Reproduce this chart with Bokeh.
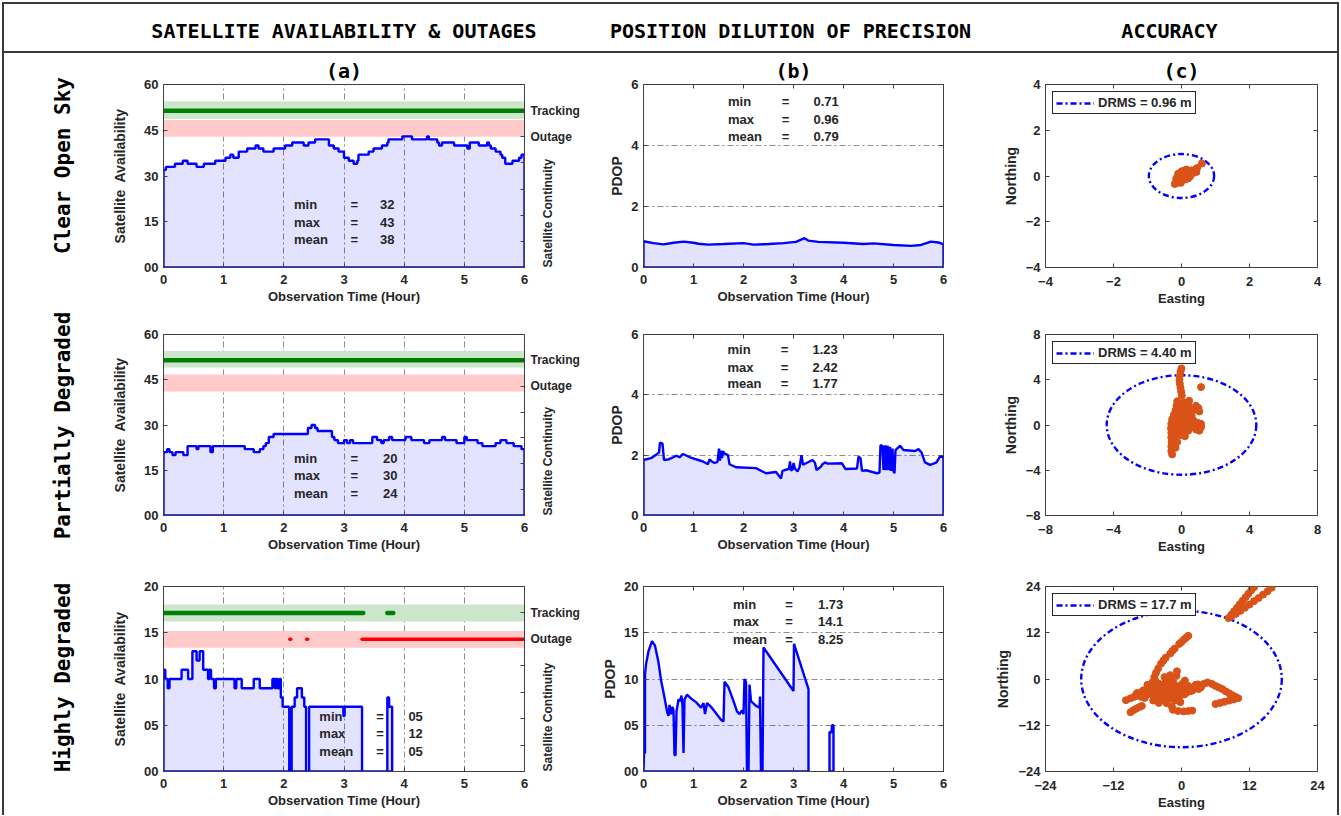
import math
from bokeh.plotting import figure
from bokeh.layouts import row, column, Spacer
from bokeh.models import Range1d, LinearAxis, FixedTicker, Label, Legend, LegendItem
from bokeh.embed import file_html
from bokeh.resources import INLINE

# ---------------- texts ----------------
col_titles = ["SATELLITE AVAILABILITY & OUTAGES", "POSITION DILUTION OF PRECISION", "ACCURACY"]
row_names = ["Clear Open Sky", "Partially Degraded", "Highly Degraded"]
panel_tags = ["(a)", "(b)", "(c)"]
stat_names = ["min", "max", "mean"]

# ---------------- shared axes ----------------
hours = [0, 6]
hour_ticks = [0, 1, 2, 3, 4, 5, 6]
avail_ticks_60 = [0, 15, 30, 45, 60]
avail_labels_60 = ["00", "15", "30", "45", "60"]
ticks_20 = [0, 5, 10, 15, 20]
labels_20 = ["00", "05", "10", "15", "20"]
pdop_ticks_6 = [0, 2, 4, 6]
cont_range = [0, 7]
cont_ticks = [5, 6]
cont_labels = ["Outage", "Tracking"]
cont_minor_ticks = [1, 2, 3, 4]

# ---------------- (a) satellite availability: (start hour, satellites) ----------------
a1_steps = [(0, 32), (0.04, 33), (0.19, 34), (0.32, 35), (0.40, 34), (0.55, 33), (0.67, 34), (0.86, 35),
            (1.03, 36), (1.11, 37), (1.16, 36), (1.25, 38), (1.39, 39), (1.53, 40), (1.58, 39), (1.66, 38),
            (1.83, 39), (2.02, 40), (2.14, 41), (2.33, 40), (2.41, 41), (2.52, 42), (2.75, 40), (2.83, 39),
            (2.91, 38), (3.0, 36), (3.08, 35), (3.16, 34), (3.22, 35), (3.24, 37), (3.41, 38), (3.49, 39),
            (3.63, 40), (3.72, 41), (3.74, 42), (3.97, 43), (4.13, 42), (4.38, 43), (4.41, 42), (4.55, 41),
            (4.58, 40), (4.63, 41), (4.83, 40), (5.05, 39), (5.09, 41), (5.24, 40), (5.38, 41), (5.41, 40),
            (5.44, 39), (5.52, 38), (5.6, 37), (5.63, 36), (5.68, 34), (5.8, 35), (5.91, 36), (5.95, 37),
            (6.0, 37)]
a2_steps = [(0, 21), (0.06, 22), (0.1, 21), (0.15, 20), (0.2, 21), (0.33, 20), (0.4, 23), (0.55, 22),
            (0.58, 23), (0.78, 21), (0.82, 23), (1.35, 22), (1.5, 21), (1.6, 22), (1.66, 23), (1.7, 24),
            (1.75, 26), (1.83, 27), (2.4, 29), (2.46, 30), (2.52, 29), (2.56, 28), (2.8, 26), (2.84, 25),
            (2.9, 24), (3.0, 25), (3.05, 24), (3.1, 25), (3.15, 24), (3.47, 26), (3.55, 25), (3.62, 24),
            (3.66, 25), (3.75, 26), (3.8, 25), (4.02, 26), (4.12, 25), (4.33, 24), (4.42, 25), (4.63, 26),
            (4.68, 25), (4.87, 24), (5.0, 26), (5.04, 25), (5.22, 24), (5.3, 23), (5.52, 24), (5.6, 25),
            (5.7, 24), (5.82, 23), (5.95, 22), (6.0, 22)]
a3_steps = [(0, 11), (0.03, 10), (0.07, 9), (0.1, 10), (0.3, 11), (0.41, 10), (0.48, 13), (0.55, 12),
            (0.6, 13), (0.66, 11), (0.74, 10), (0.76, 11), (0.79, 10), (0.84, 9), (0.87, 10), (1.18, 9),
            (1.21, 10), (1.3, 9), (1.5, 10), (1.6, 9), (1.81, 10), (1.85, 9), (1.87, 10), (1.9, 9), (1.93, 10),
            (1.95, 8), (1.98, 7), (2.09, 0), (2.13, 7), (2.18, 8), (2.22, 9), (2.3, 8), (2.34, 7), (2.37, 0),
            (2.42, 7), (2.99, 6), (3.01, 7), (3.3, 0), (3.72, 8), (3.75, 7), (3.8, 0)]

# continuity bands (continuity-axis units) and tracking / outage periods (hours)
green_bands = [(5.68, 6.36), (5.72, 6.36), (5.68, 6.32)]
red_bands = [(5.0, 5.64), (4.8, 5.45), (4.68, 5.32)]
tracking_1 = [(0, 6)]
tracking_2 = [(0, 6)]
tracking_3 = [(0, 3.32), (3.72, 3.82)]
outage_1 = []
outage_2 = []
outage_3 = [(2.1, 2.115), (2.38, 2.395), (3.3, 6.0)]

stats_a1 = ["32", "43", "38"]
stats_a2 = ["20", "30", "24"]
stats_a3 = ["05", "12", "05"]

# ---------------- (b) PDOP: (hour, pdop) ----------------
b1_pts = [(0, 0.86), (0.2, 0.8), (0.4, 0.76), (0.6, 0.81), (0.8, 0.85), (1.0, 0.81), (1.1, 0.78), (1.3, 0.75),
          (1.6, 0.77), (2.0, 0.8), (2.2, 0.75), (2.5, 0.77), (2.8, 0.8), (3.05, 0.84), (3.22, 0.96),
          (3.3, 0.88), (3.5, 0.84), (4.0, 0.81), (4.4, 0.77), (4.6, 0.79), (5.0, 0.74), (5.35, 0.71),
          (5.55, 0.74), (5.75, 0.85), (5.9, 0.82), (6.0, 0.76)]
b2_pts = [(0, 1.84), (0.15, 1.9), (0.28, 2.05), (0.31, 2.09), (0.33, 2.42), (0.38, 2.38), (0.41, 1.84),
          (0.5, 1.86), (0.66, 1.98), (0.72, 1.93), (0.79, 2.04), (0.93, 1.93), (1.19, 1.79), (1.29, 1.7),
          (1.32, 1.86), (1.36, 1.8), (1.42, 1.74), (1.48, 1.78), (1.51, 2.22), (1.53, 1.82), (1.55, 2.15),
          (1.57, 1.9), (1.59, 2.13), (1.62, 2.05), (1.69, 2.0), (1.72, 1.7), (1.85, 1.6), (2.25, 1.57),
          (2.38, 1.46), (2.45, 1.4), (2.65, 1.44), (2.75, 1.23), (2.78, 1.48), (2.91, 1.55), (2.93, 1.79),
          (2.95, 1.5), (2.98, 1.51), (3.0, 1.74), (3.03, 1.55), (3.08, 1.46), (3.12, 1.6), (3.16, 2.0),
          (3.19, 1.68), (3.21, 1.7), (3.38, 1.84), (3.43, 1.75), (3.46, 1.51), (3.55, 1.62), (3.58, 1.7),
          (3.63, 1.76), (3.68, 1.72), (3.97, 1.73), (4.04, 1.54), (4.27, 1.56), (4.3, 1.95), (4.34, 1.9),
          (4.37, 1.48), (4.45, 1.5), (4.67, 1.4), (4.72, 1.42), (4.74, 2.33), (4.78, 2.3), (4.8, 1.51),
          (4.83, 2.33), (4.85, 1.5), (4.88, 2.32), (4.9, 1.5), (4.93, 2.28), (4.95, 1.48), (4.98, 2.22),
          (5.0, 1.46), (5.02, 1.4), (5.04, 2.17), (5.13, 2.31), (5.2, 2.17), (5.43, 2.14), (5.5, 2.2),
          (5.56, 2.09), (5.6, 1.9), (5.63, 1.76), (5.73, 1.68), (5.8, 1.72), (5.86, 1.76), (5.93, 1.95),
          (6.0, 1.95)]
b3_pts = [(0, 0), (0.01, 2.0), (0.03, 2.0), (0.03, 10.5), (0.05, 11.6), (0.1, 13.0), (0.17, 14.1),
          (0.23, 13.6), (0.3, 11.8), (0.35, 9.9), (0.42, 8.0), (0.47, 6.5), (0.5, 6.0), (0.52, 7.2),
          (0.55, 6.2), (0.58, 7.0), (0.6, 6.6), (0.62, 1.8), (0.64, 1.73), (0.66, 6.5), (0.7, 7.8),
          (0.73, 7.6), (0.76, 8.2), (0.78, 7.1), (0.8, 2.0), (0.82, 7.8), (0.87, 8.3), (0.95, 7.9),
          (1.05, 7.5), (1.15, 6.9), (1.2, 7.4), (1.23, 6.2), (1.27, 7.4), (1.35, 7.0), (1.45, 6.3),
          (1.55, 5.6), (1.6, 5.4), (1.62, 9.7), (1.7, 9.1), (1.8, 7.6), (1.87, 6.5), (1.92, 6.2),
          (1.97, 6.6), (2.0, 6.2), (2.02, 10.0), (2.05, 9.7), (2.07, 0), (2.1, 0), (2.12, 9.4),
          (2.15, 7.6), (2.25, 7.1), (2.32, 6.9), (2.33, 8.1), (2.35, 0), (2.38, 0), (2.4, 13.4),
          (3.0, 8.7), (3.01, 13.8), (3.3, 8.9), (3.3, 0)]
b3_pts_late = [(3.72, 0), (3.72, 4.3), (3.76, 4.2), (3.77, 5.0), (3.8, 5.0), (3.8, 0)]

stats_b1 = ["0.71", "0.96", "0.79"]
stats_b2 = ["1.23", "2.42", "1.77"]
stats_b3 = ["1.73", "14.1", "8.25"]

# ---------------- (c) accuracy: easting / northing (m) ----------------
c1_e = [-0.17, -0.12, -0.08, -0.04, -0.1, -0.03, 0.02, 0.05, 0.0, 0.08, 0.12, 0.15, 0.2, 0.24, 0.28, 0.3,
        0.18, 0.1, 0.05, -0.06, 0.38, 0.4, 0.43, 0.46, 0.44, 0.6,
        -0.12, -0.05, 0.0, 0.1, 0.22, 0.25, -0.15, 0.02,
        -0.2, -0.15, -0.1, 0.0, 0.1, 0.2, 0.25, 0.12, -0.02, 0.3, 0.15, 0.05]
c1_n = [-0.3, -0.22, -0.15, -0.2, -0.05, -0.05, -0.12, 0.0, 0.06, 0.1, 0.02, 0.12, 0.2, 0.12, 0.2, 0.1,
        0.05, -0.06, 0.15, 0.02, 0.15, 0.22, 0.3, 0.35, 0.18, 0.55,
        -0.3, -0.25, -0.05, 0.15, 0.05, 0.22, -0.12, 0.12,
        -0.35, -0.1, 0.1, 0.2, 0.25, -0.1, -0.02, -0.15, -0.3, 0.25, 0.28, 0.22]
c2_e = [0.0, -0.06, -0.1, -0.12, -0.1, -0.06, -0.02, 0.02, 1.15,
        -0.25, -0.3, -0.35, -0.45, -0.55, -0.6, -0.62, -0.6, -0.6, -0.58, -0.6, -0.6, -0.55, -0.35,
        -0.25, -0.3, -0.2, -0.3, -0.1, -0.2, -0.05, 0.05, 0.15, 0.45, 0.4, 0.3, 0.2, 0.1, 0.0, -0.1,
        0.15, 0.35, 0.5, 0.6, 0.7, 0.85, 1.0, 1.05, 0.65, 0.85, 1.05, 1.15, 1.15, 0.95, 0.7, 0.4, 0.2,
        -0.45, -0.45]
c2_n = [5.0, 4.7, 4.35, 4.0, 3.65, 3.3, 2.95, 2.6, 3.35,
        2.1, 1.7, 1.3, 0.9, 0.5, 0.1, -0.3, -0.7, -1.1, -1.5, -1.9, -2.3, -2.6, -2.0,
        -1.5, -1.0, -0.5, 0.0, 0.3, 0.8, 1.2, 1.6, 2.0, 2.15, 1.7, 1.2, 0.7, 0.2, -0.3, -0.9,
        -0.6, -0.2, 0.3, 0.8, 1.3, 1.7, 1.5, 1.2, -0.1, -0.4, -0.5, -0.2, 0.1, 0.2, 0.4, -0.5, -1.0,
        -0.4, 0.3]
c3_e = [8.3, 8.8, 9.3, 9.8, 10.3, 10.8, 11.3, 11.8, 12.3, 12.8,
        8.8, 9.6, 10.4, 11.2, 12.0, 12.8, 13.6, 14.4, 15.2, 15.9,
        1.2, 0.8, 0.4, 0.0, -0.4, -1.2, -1.6, -2.0, -2.8, -3.2, -3.6, -4.1, -4.5, -4.8, -5.1,
        -9.8, -9.0, -8.3, -7.6, -7.0, -6.4, -5.8, -5.2,
        -8.0, -7.2, -6.5, -6.0, -5.5, -5.0, -4.5, -4.2, -4.0, -3.6, -3.3, -3.0, -2.8, -2.5, -2.2, -2.0,
        -1.8, -1.5, -1.2, -1.0, -0.9, -0.8, -0.5, -0.3, 0.0, 0.2, 0.5, 0.8, 1.2, 1.5, 2.0, 2.5, 3.0,
        3.5, 4.0, 4.6, -3.8, -2.6, -1.7, -1.5, -0.6, 0.4, 1.2, 1.9, -4.6, -6.0, -3.0, -2.0, 0.6,
        -9.0, -8.5, -8.0, -7.5, -7.0,
        5.4, 6.0, 6.6, 7.2, 7.8, 8.4, 9.0, 9.6, 10.0,
        6.0, 6.8, 7.6, 8.4, 9.2,
        -7.8, -6.8, -6.2, -5.6, -5.2, -4.8, -4.4, -3.9, -3.4, -2.9, -2.4, -1.9, -1.4, -0.9, -0.4,
        0.3, 0.9, 1.4, 1.9, 2.4, 2.9, 3.4, -3.2, -2.2, -1.2, -0.2, 0.8, -4.0, -5.0]
c3_n = [15.8, 16.7, 17.6, 18.5, 19.4, 20.3, 21.2, 22.1, 23.0, 23.8,
        16.2, 16.9, 17.7, 18.5, 19.3, 20.2, 21.0, 21.9, 22.8, 23.7,
        11.2, 10.7, 10.2, 9.6, 9.1, 7.9, 7.3, 6.6, 5.5, 4.8, 4.0, 2.8, 1.6, 0.5, -0.8,
        -5.5, -5.0, -4.6, -4.0, -3.5, -2.8, -2.2, -1.6,
        -4.0, -4.6, -4.9, -3.8, -3.0, -4.2, -3.5, -2.5, -1.2, -4.5, -3.0, -2.0, -0.8, -3.8, -2.6, -1.4,
        -0.3, -4.6, -3.2, -2.0, 0.8, 2.0, -5.0, -3.6, -2.4, -1.2, -4.0, -2.8, -1.8, -3.2, -2.2, -1.5, -2.6,
        -1.8, -1.2, -0.9, -5.8, -6.3, -7.2, -8.0, -8.3, -8.4, -8.3, -8.2, -0.5, -1.5, 0.5, 1.0, -0.4,
        -8.6, -8.1, -7.7, -7.3, -7.0,
        -1.3, -1.8, -2.2, -2.6, -3.2, -3.7, -4.2, -4.7, -5.0,
        -6.5, -6.2, -5.9, -5.6, -5.3,
        -3.6, -3.0, -4.2, -3.4, -2.0, -3.0, -4.6, -2.0, -3.8, -1.5, -3.2, -4.2, -1.0, -3.0, -1.8,
        -2.8, -1.8, -2.4, -3.0, -2.0, -1.4, -2.2, -5.2, -5.0, -5.6, -6.0, -3.6, -6.2, -5.6]
acc_limits = [4, 8, 24]
acc_ticks = [[-4, -2, 0, 2, 4], [-8, -4, 0, 4, 8], [-24, -12, 0, 12, 24]]
drms_values = [0.96, 4.40, 17.7]
drms_labels = ["DRMS = 0.96 m", "DRMS = 4.40 m", "DRMS = 17.7 m"]

# ---------------- style ----------------
SANS = "Liberation Sans"
MONO = "DejaVu Sans Mono"
INK = "#262626"
EDGE = "#404040"
BLUE = "#0000ff"
ORANGE = "#d95319"
GRID = "#8c8c8c"
GRID_DASH = "6 3 2 3"
GREEN_LINE = "#008000"
GREEN_BAND = "#cce6cc"
RED_LINE = "#ff0000"
RED_BAND = "#ffcaca"
BORDER = "#3a3a3a"
FILL_ALPHA = 0.11


def try_set(model, attr, *vals):
    for v in vals:
        try:
            setattr(model, attr, v)
            return True
        except Exception:
            continue
    return False


def style_axis(ax, label, label_standoff, tick_standoff, label_size="13px"):
    ax.axis_label = label
    ax.axis_line_color = EDGE
    ax.major_tick_line_color = EDGE
    ax.major_tick_in = 4
    ax.major_tick_out = 0
    ax.minor_tick_line_color = None
    ax.major_label_text_font = SANS
    ax.major_label_text_font_size = "13px"
    ax.major_label_text_font_style = "bold"
    ax.major_label_text_color = INK
    ax.major_label_standoff = tick_standoff
    ax.axis_label_text_font = SANS
    ax.axis_label_text_font_size = label_size
    ax.axis_label_text_font_style = "bold"
    ax.axis_label_text_color = INK
    ax.axis_label_standoff = label_standoff


def base_fig(dims, xr, yr, title=None):
    w, h, L, R, T, B = dims
    kw = dict(width=w, height=h, x_range=Range1d(*xr), y_range=Range1d(*yr),
              output_backend="svg", toolbar_location=None,
              min_border_left=L, min_border_right=R, min_border_top=T, min_border_bottom=B)
    if title:
        kw["title"] = title
    p = figure(**kw)
    p.outline_line_color = EDGE
    p.outline_line_width = 1
    p.outline_line_alpha = 1
    p.background_fill_color = "white"
    p.border_fill_color = "white"
    p.xgrid.visible = False
    p.ygrid.visible = False
    if title:
        p.title.align = "center"
        p.title.text_font = MONO
        p.title.text_font_size = "20px"
        p.title.text_font_style = "bold"
        p.title.text_color = "black"
        p.title.standoff = 3
    return p


def set_ticks(ax, ticks, labels=None):
    ax.ticker = FixedTicker(ticks=ticks)
    if labels is not None:
        ax.major_label_overrides = {t: s for t, s in zip(ticks, labels)}


def box_ticks(p, xt, yt):
    # tick marks only (no labels) on the top and right frame edges
    for ticks, side in ((xt, "above"), (yt, "right")):
        ax = LinearAxis(ticker=FixedTicker(ticks=[], minor_ticks=ticks))
        ax.axis_line_color = None
        ax.major_tick_line_color = None
        ax.minor_tick_in = 4
        ax.minor_tick_out = 0
        ax.minor_tick_line_color = EDGE
        ax.major_label_standoff = 0
        p.add_layout(ax, side)


def add_stats(p, vals, xs3, ys3):
    for name, val, y in zip(stat_names, vals, ys3):
        for txt, x, align in ((name, xs3[0], "left"), ("=", xs3[1], "center"), (val, xs3[2], "left")):
            p.add_layout(Label(x=x, y=y, text=txt, text_align=align, text_baseline="middle",
                               text_font=SANS, text_font_size="13px", text_font_style="bold",
                               text_color=INK))


def stairs(steps):
    xs, ys = [], []
    for i, (t, v) in enumerate(steps):
        xs.append(t)
        ys.append(v)
        if i + 1 < len(steps):
            xs.append(steps[i + 1][0])
            ys.append(v)
    return xs, ys


def closed(xs, ys):
    return [xs[0]] + list(xs) + [xs[-1]], [0] + list(ys) + [0]


X_TICK_STANDOFF = 7
X_LABEL_STANDOFF = 2


def avail_panel(dims, steps, ymax, yt, ylab, gband, rband, trk, out, stats, spos, title=None):
    p = base_fig(dims, hours, (0, ymax), title)
    p.extra_y_ranges = {"cont": Range1d(*cont_range)}
    style_axis(p.xaxis[0], "Observation Time (Hour)", X_LABEL_STANDOFF, X_TICK_STANDOFF)
    set_ticks(p.xaxis[0], hour_ticks)
    style_axis(p.yaxis[0], "Satellite\u00a0 Availability", 13, 5, "14px")
    set_ticks(p.yaxis[0], yt, ylab)
    p.xgrid.visible = True
    p.xgrid.ticker = FixedTicker(ticks=hour_ticks)
    p.xgrid.grid_line_color = GRID
    p.xgrid.grid_line_dash = GRID_DASH
    p.xgrid.grid_line_width = 1

    track_level = cont_ticks[cont_labels.index("Tracking")]
    out_level = cont_ticks[cont_labels.index("Outage")]
    p.quad(left=[hours[0]], right=[hours[1]], bottom=[gband[0]], top=[gband[1]],
           y_range_name="cont", fill_color=GREEN_BAND, line_color=None)
    p.quad(left=[hours[0]], right=[hours[1]], bottom=[rband[0]], top=[rband[1]],
           y_range_name="cont", fill_color=RED_BAND, line_color=None)
    if trk:
        p.multi_line(xs=[list(s) for s in trk], ys=[[track_level, track_level] for _ in trk],
                     y_range_name="cont", line_color=GREEN_LINE, line_width=4.5, line_cap="round")
    if out:
        p.multi_line(xs=[list(s) for s in out], ys=[[out_level, out_level] for _ in out],
                     y_range_name="cont", line_color=RED_LINE, line_width=3.5, line_cap="round")

    xs, ys = stairs(steps)
    px, py = closed(xs, ys)
    p.patch(px, py, fill_color=BLUE, fill_alpha=FILL_ALPHA, line_color=BLUE, line_width=2.4)

    rax = LinearAxis(y_range_name="cont")
    style_axis(rax, "Satellite Continuity", -35, 6, "12px")
    rax.ticker = FixedTicker(ticks=cont_ticks, minor_ticks=cont_minor_ticks)
    rax.major_label_overrides = {t: s for t, s in zip(cont_ticks, cont_labels)}
    rax.major_label_text_font_size = "12px"
    rax.minor_tick_in = 4
    rax.minor_tick_out = 0
    rax.minor_tick_line_color = EDGE
    try_set(rax, "axis_label_orientation", math.pi / 2)
    try_set(rax, "axis_label_align", "start", "left")
    p.add_layout(rax, "right")
    add_stats(p, stats, *spos)
    return p


def pdop_panel(dims, segments, ymax, yt, ylab, stats, spos, title=None):
    p = base_fig(dims, hours, (0, ymax), title)
    style_axis(p.xaxis[0], "Observation Time (Hour)", X_LABEL_STANDOFF, X_TICK_STANDOFF)
    set_ticks(p.xaxis[0], hour_ticks)
    style_axis(p.yaxis[0], "PDOP", 3, 5, "14px")
    set_ticks(p.yaxis[0], yt, ylab)
    p.ygrid.visible = True
    p.ygrid.ticker = FixedTicker(ticks=yt)
    p.ygrid.grid_line_color = GRID
    p.ygrid.grid_line_dash = GRID_DASH
    p.ygrid.grid_line_width = 1
    pxs, pys = [], []
    for seg in segments:
        cx, cy = closed([t for t, _ in seg], [v for _, v in seg])
        pxs.append(cx)
        pys.append(cy)
    p.patches(pxs, pys, fill_color=BLUE, fill_alpha=FILL_ALPHA, line_color=BLUE, line_width=2.4)
    box_ticks(p, hour_ticks, yt)
    add_stats(p, stats, *spos)
    return p


def acc_panel(dims, e, n, lim, ticks, drms, drms_label, msize, title=None):
    p = base_fig(dims, (-lim, lim), (-lim, lim), title)
    style_axis(p.xaxis[0], "Easting", 2, 9)
    set_ticks(p.xaxis[0], ticks)
    style_axis(p.yaxis[0], "Northing", 4, 5, "14px")
    set_ticks(p.yaxis[0], ticks)
    p.ellipse(x=[0], y=[0], width=[2 * drms], height=[2 * drms], fill_color=None,
              line_color=BLUE, line_width=2.4, line_dash="6 3 2 3")
    p.scatter(e, n, size=msize, fill_color=ORANGE, line_color=ORANGE)
    key = p.line(x=[float("nan")], y=[float("nan")], line_color=BLUE, line_width=2.4, line_dash="6 3 2 3")
    leg = Legend(items=[LegendItem(label=drms_label, renderers=[key])], location="top_left")
    leg.margin = 7
    leg.padding = 3
    leg.spacing = 0
    leg.glyph_width = 38
    leg.glyph_height = 14
    leg.label_standoff = 4
    leg.label_text_font = SANS
    leg.label_text_font_size = "13px"
    leg.label_text_font_style = "bold"
    leg.label_text_color = INK
    leg.border_line_color = INK
    leg.border_line_alpha = 1
    leg.border_line_width = 1
    leg.background_fill_alpha = 1
    p.add_layout(leg)
    box_ticks(p, ticks, ticks)
    return p


# ---------------- panels: (width, height, left, right, top, bottom) ----------------
R1, R2, R3 = (258, 31, 44), (248, 23, 44), (256, 27, 44)   # row height, top border, bottom border
A, B_, C = (490, 63, 66), (395, 53, 42), (352, 60, 20)    # column width, left border, right border


def dims(col, rw):
    return (col[0], rw[0], col[1], col[2], rw[1], rw[2])


a1 = avail_panel(dims(A, R1), a1_steps, 60, avail_ticks_60, avail_labels_60,
                 green_bands[0], red_bands[0], tracking_1, outage_1, stats_a1,
                 ((2.17, 3.17, 3.6), (20.6, 14.9, 9.1)), title=panel_tags[0])
b1 = pdop_panel(dims(B_, R1), [b1_pts], 6, pdop_ticks_6, None, stats_b1,
                ((1.69, 2.84, 3.4), (5.43, 4.85, 4.29)), title=panel_tags[1])
c1 = acc_panel(dims(C, R1), c1_e, c1_n, acc_limits[0], acc_ticks[0],
               drms_values[0], drms_labels[0], 7, title=panel_tags[2])

a2 = avail_panel(dims(A, R2), a2_steps, 60, avail_ticks_60, avail_labels_60,
                 green_bands[1], red_bands[1], tracking_2, outage_2, stats_a2,
                 ((2.17, 3.17, 3.65), (19.0, 13.1, 7.2)))
b2 = pdop_panel(dims(B_, R2), [b2_pts], 6, pdop_ticks_6, None, stats_b2,
                ((1.68, 2.82, 3.38), (5.5, 4.92, 4.37)))
c2 = acc_panel(dims(C, R2), c2_e, c2_n, acc_limits[1], acc_ticks[1],
               drms_values[1], drms_labels[1], 7)

a3 = avail_panel(dims(A, R3), a3_steps, 20, ticks_20, labels_20,
                 green_bands[2], red_bands[2], tracking_3, outage_3, stats_a3,
                 ((2.59, 3.6, 4.07), (5.95, 4.09, 2.19)))
b3 = pdop_panel(dims(B_, R3), [b3_pts, b3_pts_late], 20, ticks_20, labels_20, stats_b3,
                ((1.79, 2.91, 3.49), (18.1, 16.19, 14.26)))
c3 = acc_panel(dims(C, R3), c3_e, c3_n, acc_limits[2], acc_ticks[2],
               drms_values[2], drms_labels[2], 7)

# ---------------- header and row labels ----------------
HDR_W, HDR_H = 1333, 47
BODY_H = R1[0] + R2[0] + R3[0]
hdr = figure(width=HDR_W, height=HDR_H, x_range=Range1d(0, HDR_W), y_range=Range1d(0, HDR_H),
             x_axis_location=None, y_axis_location=None, min_border=0, outline_line_color=None,
             toolbar_location=None, output_backend="svg")
hdr.grid.visible = False
for txt, x in zip(col_titles, (339.5, 786, 1165)):
    hdr.add_layout(Label(x=x, y=20.5, text=txt, text_align="center", text_baseline="middle",
                         text_font=MONO, text_font_size="20px", text_font_style="bold", text_color="black"))

labs = figure(width=96, height=BODY_H, x_range=Range1d(0, 96), y_range=Range1d(0, BODY_H),
              x_axis_location=None, y_axis_location=None, min_border=0, outline_line_color=None,
              toolbar_location=None, output_backend="svg")
labs.grid.visible = False
for txt, y in zip(row_names, (650, 390, 138)):
    labs.add_layout(Label(x=58, y=y, text=txt, angle=math.pi / 2, text_align="center",
                          text_baseline="middle", text_font=MONO, text_font_size="21px",
                          text_font_style="bold", text_color="black"))


def bar(w, h, color=BORDER):
    return Spacer(width=w, height=h, styles={"background-color": color})


def gap(w, h):
    return Spacer(width=w, height=h)


grid = column(row(a1, b1, c1), row(a2, b2, c2), row(a3, b3, c3))
boxed = column(
    bar(1337, 2),
    row(bar(2, HDR_H), hdr, bar(2, HDR_H)),
    bar(1337, 2),
    row(bar(2, BODY_H), labs, grid, bar(2, BODY_H)),
)
layout = column(gap(1341, 2), row(gap(2, 815), boxed, gap(2, 815)))

open("out.html", "w").write(file_html(layout, INLINE))
